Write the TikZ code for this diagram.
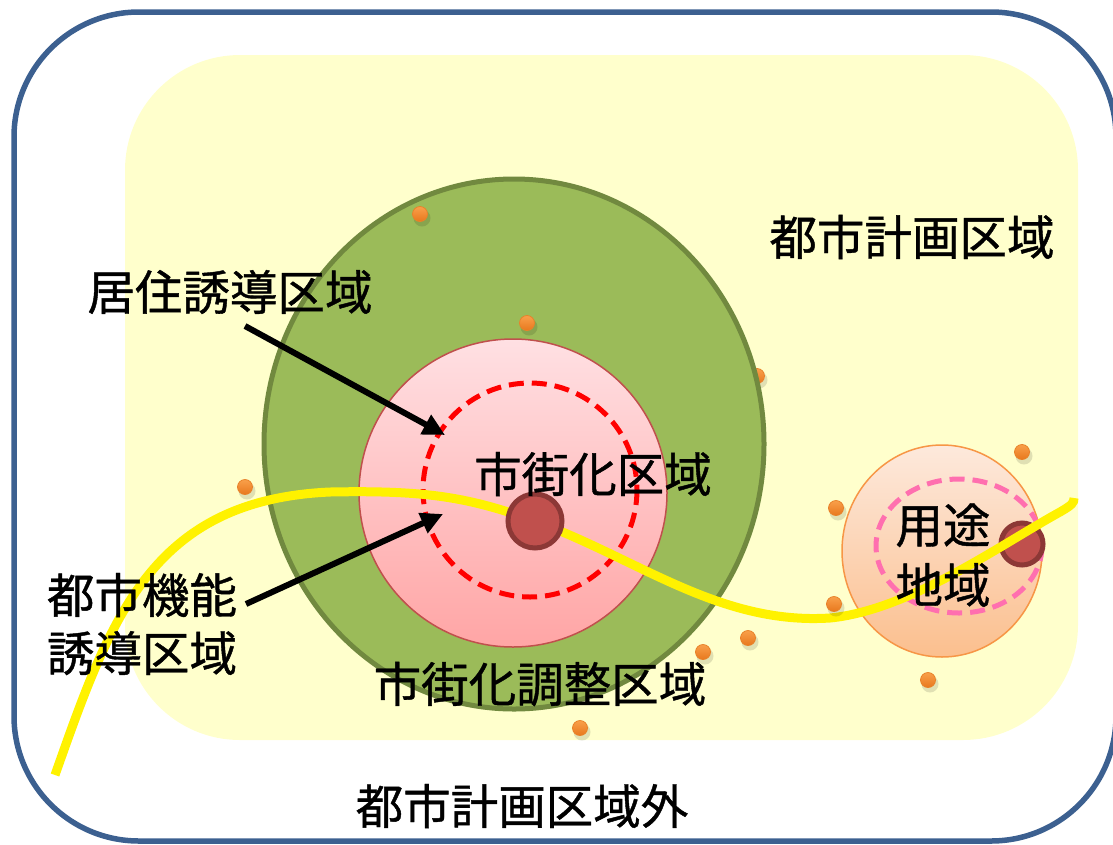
\documentclass[tikz,border=0pt]{standalone}
\usepackage{fontspec}
\setmainfont{Noto Sans CJK JP}[FakeBold=0.9]
\usetikzlibrary{arrows.meta}
\definecolor{frameblue}{HTML}{3C6090}
\definecolor{cityyellow}{HTML}{FFFFCC}
\definecolor{greenfill}{HTML}{9BBB59}
\definecolor{greenline}{HTML}{71893F}
\definecolor{pinktop}{HTML}{FFE0E3}
\definecolor{pinkbot}{HTML}{FFA5A5}
\definecolor{pinkline}{HTML}{C0504D}
\definecolor{peachtop}{HTML}{FDE9DC}
\definecolor{peachbot}{HTML}{FBBF8E}
\definecolor{peachline}{HTML}{F79646}
\definecolor{hotpink}{HTML}{FF6FAF}
\definecolor{coredot}{HTML}{C0504D}
\definecolor{coreline}{HTML}{8C3836}
\definecolor{dottop}{HTML}{F9A04A}
\definecolor{dotbot}{HTML}{E8781E}
\definecolor{dotdark}{HTML}{E8822A}
\tikzset{
  lbl/.style={inner sep=0pt, font=\fontsize{47.5}{58}\selectfont, align=center},
  odot/.style={circle, minimum size=15pt, inner sep=0pt, draw=dotdark, line width=0.8pt,
    top color=dottop, bottom color=dotbot},
  dshadow/.style={fill=black, opacity=0.12},
  pointer/.style={line width=6pt, -{Triangle[length=22pt,width=21pt]}},
  dashring/.style={line width=5pt, dash pattern=on 15pt off 8pt},
}
\newcommand{\odotat}[3]{%
  \fill[dshadow] (#2+2,#3+4) circle (8.5);
  \node[odot] (#1) at (#2,#3) {};}
\begin{document}
\begin{tikzpicture}[x=1pt,y=-1pt]
\useasboundingbox (0,0) rectangle (1113,844);
% outer frame
\draw[frameblue, line width=5.5pt, rounded corners=125pt] (14,12) rectangle (1116,841);
% city planning area
\fill[cityyellow, rounded corners=115pt] (125,55) rectangle (1078,740);
% dot behind the ellipse
\odotat{d3}{757}{376}
% urbanisation control area
\draw[greenline, fill=greenfill, line width=5pt] (514,444) ellipse [x radius=250, y radius=265];
% urbanisation area
\shade[top color=pinktop, bottom color=pinkbot, draw=pinkline, line width=1.5pt] (513,493) circle (154);
\draw[red, dashring] (530,490) circle (107);
% land use area
\shade[top color=peachtop, bottom color=peachbot, draw=peachline, line width=1.5pt] (942,551) ellipse [x radius=100, y radius=106];
\draw[hotpink, dashring] (959,546) ellipse [x radius=83, y radius=67];
\node[circle, minimum size=42pt, inner sep=0pt, fill=coredot, draw=coreline, line width=5pt] (core2) at (1022,544) {};
% yellow line
\draw[yellow, line width=9pt]
  (55,775) .. controls (110,620) and (150,500) .. (330,492)
  .. controls (430,490) and (470,498) .. (535,521)
  .. controls (640,560) and (720,625) .. (830,618)
  .. controls (910,610) and (1000,545) .. (1060,512)
  .. controls (1072,505) and (1074,503) .. (1074,498);
\node[circle, minimum size=54pt, inner sep=0pt, fill=coredot, draw=coreline, line width=5pt] (core1) at (535,521) {};
% other dots
\odotat{d1}{420}{214}
\odotat{d2}{527}{323}
\odotat{d4}{245}{487}
\odotat{d5}{1022}{452}
\odotat{d6}{836}{508}
\odotat{d7}{834}{604}
\odotat{d8}{748}{638}
\odotat{d9}{703}{652}
\odotat{d10}{928}{680}
\odotat{d11}{580}{728}
% labels
\node[lbl] (shigaika) at (593,474) {市街化区域};
\node[lbl] (toshikeikaku) at (912,237) {都市計画区域};
\node[lbl] (kyoju) at (230,292) {居住誘導区域};
\node[lbl] (toshikino) at (142,624) {都市機能\\誘導区域};
\node[lbl] (chosei) at (540,684) {市街化調整区域};
\node[lbl] (gai) at (522,806) {都市計画区域外};
\node[lbl, font=\fontsize{47.5}{60}\selectfont] (yoto) at (943,555) {用途\\地域};
% pointers
\coordinate (kyojuStart) at (245,326);
\coordinate (kyojuTip) at (445,435);
\coordinate (kinoStart) at (246,604);
\coordinate (kinoTip) at (443,514);
\draw[pointer] (kyojuStart) -- (kyojuTip);
\draw[pointer] (kinoStart) -- (kinoTip);
\end{tikzpicture}
\end{document}
